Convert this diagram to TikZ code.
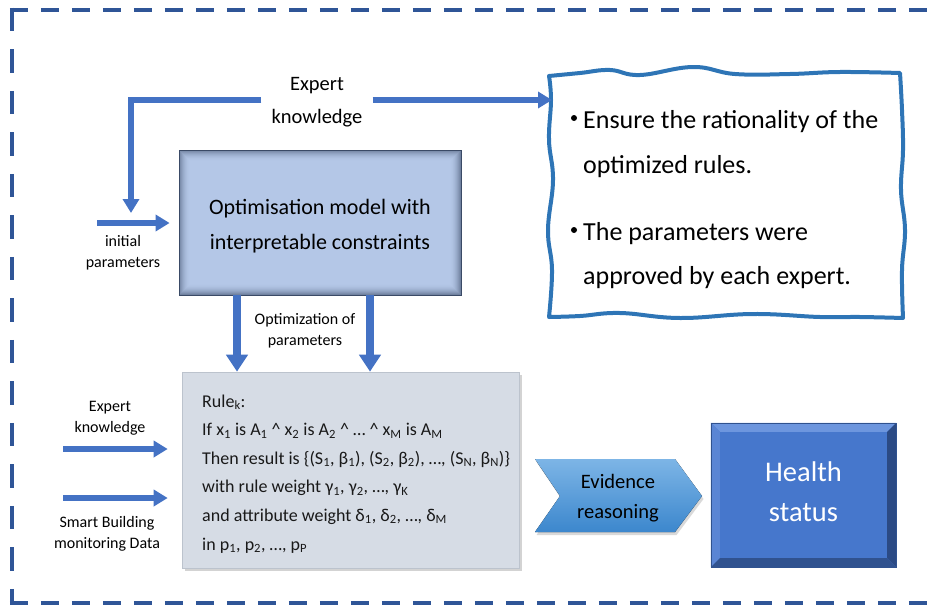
\documentclass[tikz,border=0pt]{standalone}
\usepackage{fontspec}
\setmainfont{Carlito}
\usetikzlibrary{arrows.meta,shadows,calc}

\definecolor{framec}{HTML}{2F5597}
\definecolor{arrc}{HTML}{4472C4}
\definecolor{optfill}{HTML}{B4C7E7}
\definecolor{optedge}{HTML}{3A4A66}
\definecolor{rulefill}{HTML}{D6DCE5}
\definecolor{ruleedge}{HTML}{BCC3CD}
\definecolor{wavec}{HTML}{2E75B6}
\definecolor{evtop}{HTML}{7DB5E6}
\definecolor{evbot}{HTML}{3C87CD}
\definecolor{hface}{HTML}{4677CC}
\definecolor{hlight}{HTML}{6D96DE}
\definecolor{hleft}{HTML}{5A85D4}
\definecolor{hdark}{HTML}{2B4A84}
\definecolor{hbot}{HTML}{30528F}

\newcommand{\fsz}[2]{\fontsize{#1}{#2}\selectfont}
\newcommand{\sbs}[1]{\textsubscript{#1}}

\begin{document}
\begin{tikzpicture}[x=1pt,y=-1pt,
  arr/.style={draw=arrc,line width=5.5pt,-{Triangle[width=16pt,length=14pt]}},
  fatarr/.style={draw=arrc,line width=8pt,-{Triangle[width=21pt,length=17pt]}},
  lbl/.style={font=\fsz{16}{21},align=center,inner sep=0pt},
  ruletxt/.style={font=\fsz{18}{22},anchor=base west,inner sep=0pt,text=black!90},
  wavytxt/.style={font=\fsz{26}{30},anchor=base west,inner sep=0pt},
  bulletdot/.style={circle,fill=black,inner sep=0pt,minimum size=6pt},
  frameline/.style={draw=framec,line width=4.5pt},
]
\useasboundingbox (0,0) rectangle (931,610);

% dashed outer frame (open on the right)
\draw[frameline,dash pattern=on 18pt off 13pt] (9.75,10) -- (931,10);
\draw[frameline,dash pattern=on 18pt off 13pt] (9.75,603) -- (931,603);
\draw[frameline,dash pattern=on 23.5pt off 18pt] (12,7.75) -- (12,605.25);

% optimisation model box with inner shadow
\node[draw=optedge,line width=0.8pt,fill=optfill,minimum width=282pt,minimum height=145pt,inner sep=0pt] (opt) at (320,222.5) {};
\foreach \i [evaluate=\i as \op using {0.55*(1-\i/11)^2}] in {0,...,10}
  \draw[optedge,line width=1pt,opacity=\op]
    ([shift={(\i+0.5,\i+0.5)}]opt.north west) rectangle ([shift={(-\i-0.5,-\i-0.5)}]opt.south east);
\node[font=\fsz{22}{35},align=center] (optT) at (320,226) {Optimisation model with\\interpretable constraints};

% rule base box
\node[fill=rulefill,draw=ruleedge,line width=0.6pt,minimum width=337pt,minimum height=196pt,inner sep=0pt,
      drop shadow={shadow xshift=3pt,shadow yshift=-3pt,opacity=0.35,fill=gray}] (rule) at (350.5,470) {};
\node[ruletxt] (r1) at (202,407) {Rule\sbs{k}:};
\node[ruletxt] (r2) at (202,435.5) {If x\sbs{1} is A\sbs{1} \textasciicircum{} x\sbs{2} is A\sbs{2} \textasciicircum{} … \textasciicircum{} x\sbs{M} is A\sbs{M}};
\node[ruletxt] (r3) at (202,464) {Then result is \{(S\sbs{1}, β\sbs{1}), (S\sbs{2}, β\sbs{2}), …, (S\sbs{N}, β\sbs{N})\}};
\node[ruletxt] (r4) at (202,492.5) {with rule weight γ\sbs{1}, γ\sbs{2}, …, γ\sbs{K}};
\node[ruletxt] (r5) at (202,521) {and attribute weight δ\sbs{1}, δ\sbs{2}, …, δ\sbs{M}};
\node[ruletxt] (r6) at (202,550) {in p\sbs{1}, p\sbs{2}, …, p\sbs{P}};

% wavy note box
\draw[wavec,line width=4pt,line join=round]
  plot[smooth,tension=0.7] coordinates {(549,76) (580,73) (610,70) (640,75) (693,67) (735,74) (790,74) (840,72) (900,73)}
  -- plot[smooth,tension=0.7] coordinates {(900,73) (902,110) (903,150) (901,190) (905,230) (902,270) (903,318)}
  -- plot[smooth,tension=0.7] coordinates {(903,318) (860,317) (820,317) (753,314) (680,318) (620,313) (580,316) (549,317)}
  -- plot[smooth,tension=0.7] coordinates {(549,317) (552,270) (548,230) (553,180) (549,140) (551,100) (549,76)} -- cycle;
\node[bulletdot] (b1) at (574,118) {};
\node[wavytxt] (w1) at (583,128) {Ensure the rationality of the};
\node[wavytxt] (w2) at (583,173) {optimized rules.};
\node[bulletdot] (b2) at (574,230) {};
\node[wavytxt] (w3) at (583,240) {The parameters were};
\node[wavytxt] (w4) at (583,284) {approved by each expert.};

% evidence reasoning chevron
\fill[top color=evtop,bottom color=evbot,drop shadow={shadow xshift=1.5pt,shadow yshift=-3pt,opacity=0.3,fill=gray}]
  (535,459) -- (675,459) -- (702,496) -- (675,532) -- (535,532) -- (560,496) -- cycle;
\node[font=\fsz{20.5}{30},align=center] (evid) at (618,498) {Evidence\\reasoning};

% health status bevelled box
\node[fill=hface,minimum width=185pt,minimum height=144pt,inner sep=0pt] (health) at (803.5,495) {};
\fill[hlight] (health.north west) -- (health.north east) -- ([shift={(-9,9)}]health.north east) -- ([shift={(9,9)}]health.north west) -- cycle;
\fill[hleft] (health.north west) -- ([shift={(9,9)}]health.north west) -- ([shift={(9,-9)}]health.south west) -- (health.south west) -- cycle;
\fill[hdark] (health.north east) -- (health.south east) -- ([shift={(-9,-9)}]health.south east) -- ([shift={(-9,9)}]health.north east) -- cycle;
\fill[hbot] (health.south west) -- (health.south east) -- ([shift={(-9,-9)}]health.south east) -- ([shift={(9,-9)}]health.south west) -- cycle;
\draw[hbot,line width=0.6pt] (health.north west) rectangle (health.south east);
\node[font=\fsz{28.5}{40},text=white,align=center] (healthT) at (803.5,492) {Health\\status};

% labels
\node[font=\fsz{20.5}{33},align=center,inner xsep=10pt] (ek) at (317,102) {Expert\\knowledge};
\node[lbl] (ipT) at (123,253) {initial\\parameters};
\node[lbl] (opT) at (305,331) {Optimization of\\parameters};
\node[lbl] (ekL) at (110,418) {Expert\\knowledge};
\node[lbl] (sbL) at (107,534) {Smart Building\\monitoring Data};

% connectors
\coordinate (ekdown) at (131,213);
\coordinate (wvin) at (552,100);
\coordinate (ipin) at (97,223);
\coordinate (d1) at (237,0);
\coordinate (d2) at (370,0);
\coordinate (lk) at (63,449);
\coordinate (ls) at (63,498);

\draw[arr] (ek.west |- wvin) -| (ekdown);
\draw[arr] (ek.east |- wvin) -- (wvin);
\draw[arr,shorten >=9pt] (ipin) -- (ipin -| opt.west);
\draw[fatarr] (opt.south -| d1) -- (rule.north -| d1);
\draw[fatarr] (opt.south -| d2) -- (rule.north -| d2);
\draw[arr,shorten >=14pt] (lk) -- (lk -| rule.west);
\draw[arr,shorten >=14pt] (ls) -- (ls -| rule.west);
\end{tikzpicture}
\end{document}
